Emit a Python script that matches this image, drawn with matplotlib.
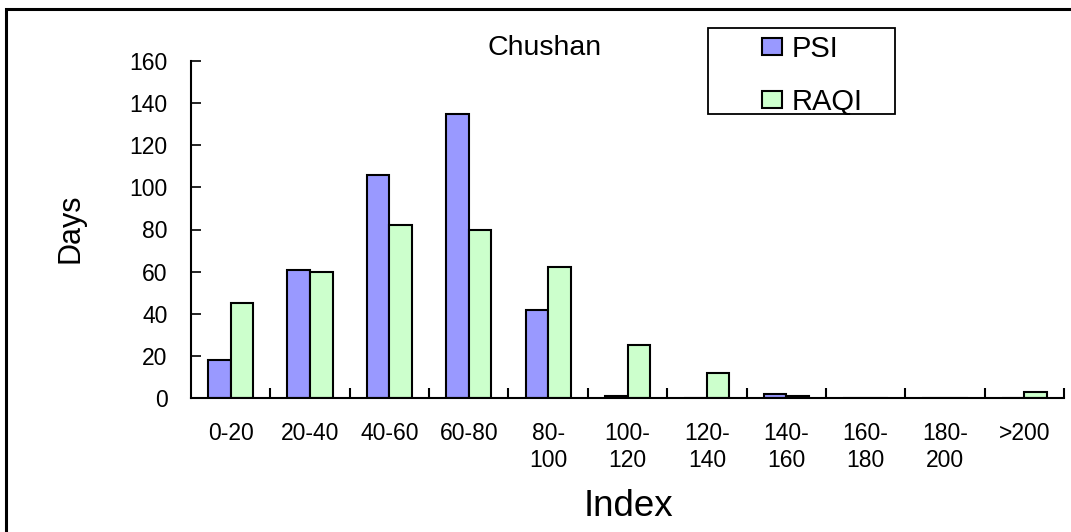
import matplotlib
matplotlib.use("Agg")
import matplotlib.pyplot as plt
import numpy as np
from matplotlib.patches import Rectangle

plt.rcParams['font.family'] = ['Liberation Sans', 'DejaVu Sans']

# --- data: days per index range at Chushan ---
categories = ["0-20", "20-40", "40-60", "60-80", "80-\n100", "100-\n120",
              "120-\n140", "140-\n160", "160-\n180", "180-\n200", ">200"]
psi_days = [18, 61, 106, 135, 42, 1, 0, 2, 0, 0, 0]
raqi_days = [45, 60, 82, 80, 62, 25, 12, 1, 0, 0, 3]

W, H = 1071, 532
fig = plt.figure(figsize=(W / 100, H / 100), dpi=100)

# axes placed in pixel terms
left, right, top, bottom = 191, 1064, 61, 398
ax = fig.add_axes([left / W, 1 - bottom / H, (right - left) / W, (bottom - top) / H])

x = np.arange(len(categories))
bw = 0.285
ax.bar(x - bw / 2, psi_days, bw, color="#9999FF", edgecolor="black", linewidth=1.5, label="PSI")
ax.bar(x + bw / 2, raqi_days, bw, color="#CCFFCC", edgecolor="black", linewidth=1.5, label="RAQI")

ax.set_xlim(-0.5, len(categories) - 0.5)
ax.set_ylim(0, 160)
ax.set_yticks(range(0, 161, 20))
ax.tick_params(axis="y", direction="in", length=7, width=1.2, pad=17, labelsize=16.5)

# category labels in the middle, ticks on the boundaries
ax.set_xticks(x)
ax.set_xticklabels(categories, fontsize=16.5, linespacing=1.25, va="top")
ax.tick_params(axis="x", which="major", length=0, pad=17)
ax.set_xticks(np.arange(0.5, len(categories), 1.0), minor=True)
ax.tick_params(axis="x", which="minor", direction="in", length=7, width=1.5)

for side in ("top", "right"):
    ax.spines[side].set_visible(False)
for side in ("left", "bottom"):
    ax.spines[side].set_linewidth(1.5)

fig.text(545 / W, 1 - 48 / H, "Chushan", fontsize=20.5, ha="center", va="center")
fig.text(70 / W, 1 - 228 / H, "Days", fontsize=22, rotation=90, ha="center", va="center")
fig.text(628 / W, 1 - 506 / H, "Index", fontsize=26.5, ha="center", va="center")

# legend entries, with its own box drawn round them
fig.legend(loc="upper left", bbox_to_anchor=(762 / W, 1 - 35 / H), fontsize=21,
           frameon=False, handlelength=0.7, handleheight=0.55, handletextpad=0.3,
           labelspacing=0.85, borderpad=0, borderaxespad=0)
fig.patches.append(Rectangle((708 / W, 1 - 114 / H), (895 - 708) / W, (114 - 28) / H,
                             transform=fig.transFigure, fill=False, edgecolor="black",
                             linewidth=1.3))

# outer chart border
fig.patches.append(Rectangle((6 / W, -0.05), 1.1, 1 - 9 / H + 0.05, transform=fig.transFigure,
                             fill=False, edgecolor="black", linewidth=2.2))

fig.savefig("out.png", dpi=100)
